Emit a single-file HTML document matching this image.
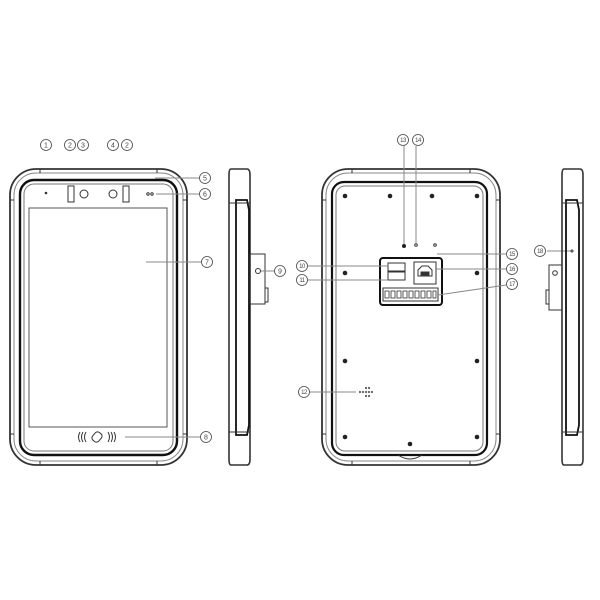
<!DOCTYPE html>
<html><head><meta charset="utf-8"><style>html,body{margin:0;padding:0;background:#fff}svg{display:block}</style></head><body>
<svg width="600" height="600" viewBox="0 0 600 600" xmlns="http://www.w3.org/2000/svg" font-family="Liberation Sans, sans-serif">
<g fill="none" stroke="#333" stroke-width="1">
<!-- FRONT -->
<rect x="10" y="169" width="177" height="296" rx="26" stroke-width="1.8"/>
<rect x="14" y="173" width="169" height="288" rx="22" stroke="#888"/>
<rect x="20" y="180" width="157" height="275" rx="14" stroke="#111" stroke-width="2.4"/>
<rect x="24" y="184" width="149" height="267" rx="10" stroke="#777"/>
<line x1="40" y1="169" x2="40" y2="173"/><line x1="157" y1="169" x2="157" y2="173"/>
<line x1="40" y1="461" x2="40" y2="465"/><line x1="157" y1="461" x2="157" y2="465"/>
<line x1="10" y1="200" x2="14" y2="200"/><line x1="183" y1="200" x2="187" y2="200"/>
<line x1="10" y1="434" x2="14" y2="434"/><line x1="183" y1="434" x2="187" y2="434"/>
<rect x="29" y="208" width="138" height="219" stroke="#555"/>
<circle cx="46" cy="193" r="0.8" fill="#333"/>
<rect x="68" y="186" width="6" height="16"/><circle cx="84" cy="194" r="4"/>
<circle cx="113" cy="194" r="4"/><rect x="123" y="186" width="6" height="16"/>
<circle cx="148" cy="194" r="1.2"/><circle cx="152" cy="194" r="1.2"/>
<path d="M80 432 q-3 5 0 10 M83 432 q-3 5 0 10 M86 432 q-3 5 0 10 M114 432 q3 5 0 10 M111 432 q3 5 0 10 M108 432 q3 5 0 10"/>
<rect x="93" y="432" width="8" height="10" rx="3" transform="rotate(40 97 437)"/>
<line x1="155" y1="178" x2="199" y2="178" stroke="#888"/>
<line x1="156" y1="194" x2="199" y2="194" stroke="#888"/>
<line x1="146" y1="262" x2="201" y2="262" stroke="#888"/>
<line x1="125" y1="437" x2="200" y2="437" stroke="#888"/>
<!-- SIDE 1 -->
<path d="M231 169 h16 q3 0 3 6 v284 q0 6 -3 6 h-16 q-2 0 -2 -6 v-284 q0 -6 2 -6z" stroke-width="1.6"/>
<path d="M236 200 h11 l2 10 v215 l-2 10 h-11 z" stroke="#111" stroke-width="1.8"/>
<line x1="229" y1="203" x2="250" y2="203"/><line x1="229" y1="432" x2="250" y2="432"/>
<rect x="250" y="254" width="15" height="50"/><rect x="265" y="288" width="3" height="14"/>
<circle cx="258" cy="271" r="2.5"/>
<line x1="261" y1="271" x2="274" y2="271" stroke="#888"/>
<!-- BACK -->
<rect x="322" y="169" width="178" height="296" rx="26" stroke-width="1.8"/>
<rect x="326" y="173" width="170" height="288" rx="22" stroke="#888"/>
<rect x="332" y="182" width="155" height="273" rx="12" stroke="#111" stroke-width="2.2"/>
<rect x="336" y="186" width="147" height="265" rx="9" stroke="#777"/>
<line x1="352" y1="169" x2="352" y2="173"/><line x1="470" y1="169" x2="470" y2="173"/>
<line x1="352" y1="461" x2="352" y2="465"/><line x1="470" y1="461" x2="470" y2="465"/>
<line x1="322" y1="200" x2="326" y2="200"/><line x1="496" y1="200" x2="500" y2="200"/>
<line x1="322" y1="434" x2="326" y2="434"/><line x1="496" y1="434" x2="500" y2="434"/>
<path d="M398 455 q12 8 24 0"/>
<g fill="#222" stroke="none">
<circle cx="345" cy="196" r="2.3"/><circle cx="390" cy="196" r="2.3"/><circle cx="432" cy="196" r="2.3"/><circle cx="477" cy="196" r="2.3"/>
<circle cx="345" cy="273" r="2.3"/><circle cx="477" cy="273" r="2.3"/>
<circle cx="345" cy="361" r="2.3"/><circle cx="477" cy="361" r="2.3"/>
<circle cx="345" cy="437" r="2.3"/><circle cx="477" cy="437" r="2.3"/><circle cx="410" cy="444" r="2.3"/>
<circle cx="404" cy="246" r="2"/>
</g>
<circle cx="416" cy="245" r="1.3"/><circle cx="435" cy="245" r="1.3"/>
<rect x="380" y="258" width="62" height="47" rx="3" stroke="#111" stroke-width="2"/>
<rect x="388" y="263" width="17" height="8"/><rect x="388" y="272" width="17" height="8"/>
<rect x="414" y="262" width="22" height="22"/>
<path d="M418 270 l4 -4 h6 l4 4 v6 h-14z"/>
<rect x="421" y="272" width="8" height="4" fill="#333"/>
<rect x="383" y="288" width="55" height="13"/>
<g stroke-width="0.8"><rect x="385" y="291" width="4" height="7"/><rect x="391" y="291" width="4" height="7"/><rect x="397" y="291" width="4" height="7"/><rect x="403" y="291" width="4" height="7"/><rect x="409" y="291" width="4" height="7"/><rect x="415" y="291" width="4" height="7"/><rect x="421" y="291" width="4" height="7"/><rect x="427" y="291" width="4" height="7"/><rect x="433" y="291" width="3" height="7"/></g>
<g stroke-width="0.6"><circle cx="366" cy="388" r="0.8"/><circle cx="369" cy="388" r="0.8"/><circle cx="360" cy="392" r="0.8"/><circle cx="363" cy="392" r="0.8"/><circle cx="366" cy="392" r="0.8"/><circle cx="369" cy="392" r="0.8"/><circle cx="372" cy="392" r="0.8"/><circle cx="366" cy="396" r="0.8"/><circle cx="369" cy="396" r="0.8"/></g>
<g stroke="#888">
<line x1="404" y1="146" x2="404" y2="244"/><line x1="416" y1="146" x2="416" y2="243"/>
<line x1="437" y1="254" x2="506" y2="254"/>
<line x1="436" y1="269" x2="506" y2="269"/>
<line x1="438" y1="295" x2="506" y2="285"/>
<line x1="308" y1="266" x2="388" y2="266"/>
<line x1="308" y1="280" x2="388" y2="280"/>
<line x1="310" y1="392" x2="356" y2="392"/>
<line x1="547" y1="251" x2="571" y2="251"/>
</g>
<!-- SIDE 2 -->
<path d="M564 169 h16 q3 0 3 6 v284 q0 6 -3 6 h-16 q-2 0 -2 -6 v-284 q0 -6 2 -6z" stroke-width="1.6"/>
<path d="M566 200 h11 l2 10 v215 l-2 10 h-11 z" stroke="#111" stroke-width="1.8"/>
<line x1="562" y1="203" x2="583" y2="203"/><line x1="562" y1="432" x2="583" y2="432"/>
<rect x="549" y="265" width="13" height="45"/><rect x="546" y="290" width="3" height="14"/>
<circle cx="555" cy="273" r="2.3"/>
<circle cx="572" cy="251" r="1"/>
</g>
<g fill="none" stroke="#444" stroke-width="0.8">
<circle cx="46" cy="145" r="5.5"/><circle cx="70" cy="145" r="5.5"/><circle cx="83" cy="145" r="5.5"/><circle cx="113" cy="145" r="5.5"/><circle cx="127" cy="145" r="5.5"/>
<circle cx="205" cy="178" r="5.5"/><circle cx="205" cy="194" r="5.5"/><circle cx="207" cy="262" r="5.5"/><circle cx="206" cy="437" r="5.5"/><circle cx="280" cy="271" r="5.5"/>
<circle cx="403" cy="140" r="5.5"/><circle cx="418" cy="140" r="5.5"/><circle cx="512" cy="254" r="5.5"/><circle cx="512" cy="269" r="5.5"/><circle cx="512" cy="284" r="5.5"/>
<circle cx="302" cy="266" r="5.5"/><circle cx="302" cy="280" r="5.5"/><circle cx="304" cy="392" r="5.5"/><circle cx="540" cy="251" r="5.5"/>
</g>
<g fill="#444" font-size="7" text-anchor="middle">
<text x="46" y="147.5">1</text><text x="70" y="147.5">2</text><text x="83" y="147.5">3</text><text x="113" y="147.5">4</text><text x="127" y="147.5">2</text>
<text x="205" y="180.5">5</text><text x="205" y="196.5">6</text><text x="207" y="264.5">7</text><text x="206" y="439.5">8</text><text x="280" y="273.5">9</text>
<g font-size="6" letter-spacing="-0.5"><text x="403" y="142">13</text><text x="418" y="142">14</text><text x="512" y="256">15</text><text x="512" y="271">16</text><text x="512" y="286">17</text>
<text x="302" y="268">10</text><text x="302" y="282">11</text><text x="304" y="394">12</text><text x="540" y="253">18</text></g>
</g>
</svg>
</body></html>
